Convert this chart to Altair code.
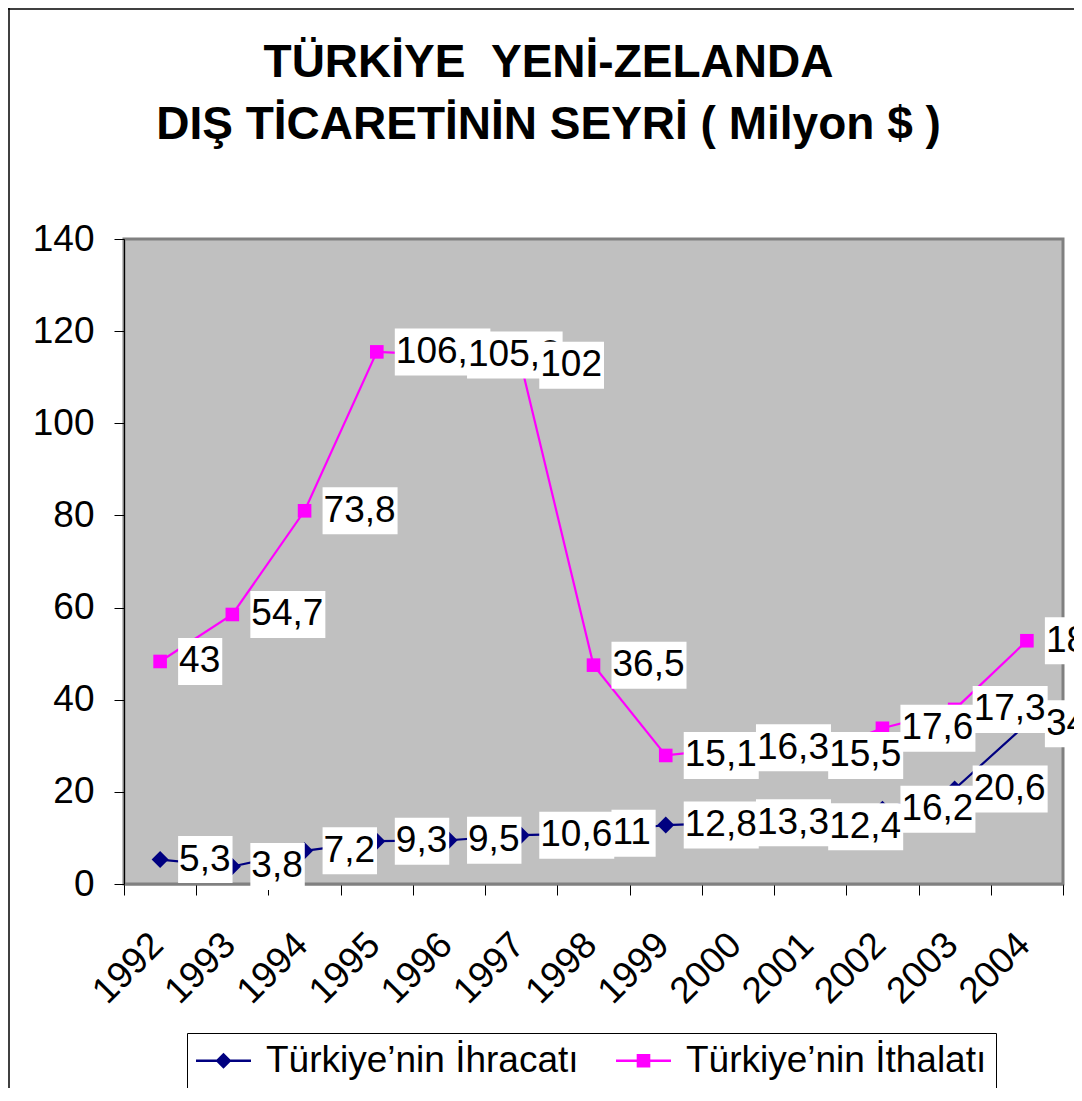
import altair as alt
import pandas as pd

# ---- data ----
years = ["1992", "1993", "1994", "1995", "1996", "1997", "1998",
         "1999", "2000", "2001", "2002", "2003", "2004"]
exports = [5.3, 3.8, 7.2, 9.3, 9.5, 10.6, 11, 12.8, 13.3, 12.4, 16.2, 20.6, 34.8]
imports = [43, 54.7, 73.8, 106.2, 105.3, 102, 36.5, 15.1, 16.3, 15.5, 17.6, 17.3, 18]
series_names = ["Türkiye’nin İhracatı", "Türkiye’nin İthalatı"]
series_colors = ["#000080", "#FF00FF"]
title_lines = ["TÜRKİYE \u00a0YENİ-ZELANDA", "DIŞ TİCARETİNİN SEYRİ ( Milyon $ )"]
y_ticks = [0, 20, 40, 60, 80, 100, 120, 140]

FONT = "Liberation Sans"
FS = 37          # label font size
BOX_R = 100.0    # px per path unit for label boxes (size = (2*BOX_R)^2)


def fmt(v):
    return f"{v:g}".replace(".", ",")


def text_w(s):
    return sum(0.278 if c == "," else 0.556 for c in s) * FS


def box_path(label):
    x0 = 18.0
    x1 = x0 + text_w(label) + 3.0
    h = 23.5
    return (f"M{x0/BOX_R:.4f},{-h/BOX_R:.4f}H{x1/BOX_R:.4f}"
            f"V{h/BOX_R:.4f}H{x0/BOX_R:.4f}Z")


rows = []
order = 0
for s_i, (name, vals) in enumerate([(series_names[0], exports), (series_names[1], imports)]):
    for i, yr in enumerate(years):
        plotted = exports[i] if s_i == 0 else exports[i] + imports[i]
        rows.append({"series": name, "year": yr, "value": vals[i], "y": plotted,
                     "label": fmt(vals[i]), "idx": order})
        order += 1
df = pd.DataFrame(rows)

# ---- shared encodings ----
x_enc = alt.X("year:N",
              scale=alt.Scale(type="band", domain=years, paddingInner=0, paddingOuter=0),
              axis=alt.Axis(title=None, tickBand="extent", labelAngle=-45, labelAlign="right",
                            labelBaseline="middle", labelPadding=44, labelOffset=-3, tickSize=11,
                            labelOverlap=False, labelBound=False, domainColor="#808080",
                            domainWidth=2))
y_enc = alt.Y("y:Q", scale=alt.Scale(domain=[0, 140], nice=False, zero=True),
              axis=alt.Axis(title=None, values=y_ticks, tickSize=10, labelPadding=20,
                            domainColor="black", domainWidth=1))

base = alt.Chart(df)

layers = []

# outer chart frame (left and top edges visible in reference)
frame = pd.DataFrame({"a": [0]})
layers.append(alt.Chart(frame).mark_rule(color="black", strokeWidth=1.5).encode(
    x=alt.value(-115), y=alt.value(-231), y2=alt.value(849)))
layers.append(alt.Chart(frame).mark_rule(color="black", strokeWidth=1.5).encode(
    x=alt.value(-116), x2=alt.value(960), y=alt.value(-230)))

shapes = ["diamond", "square"]
sizes = [290, 185]
for s_i, name in enumerate(series_names):
    sub = base.transform_filter(alt.datum.series == name)
    layers.append(sub.mark_line(color=series_colors[s_i], strokeWidth=2.2).encode(x=x_enc, y=y_enc))
    layers.append(sub.mark_point(filled=True, color=series_colors[s_i], shape=shapes[s_i],
                                 size=sizes[s_i], opacity=1).encode(x=x_enc, y=y_enc))

# data labels: white box + text, drawn label by label (later ones on top)
for k, lab in enumerate(df["label"]):
    sub = base.transform_filter(alt.datum.idx == k)
    layers.append(sub.mark_point(filled=True, color="white", opacity=1, size=(2 * BOX_R) ** 2,
                                 strokeWidth=0, shape=box_path(lab)).encode(x=x_enc, y=y_enc))
    layers.append(sub.mark_text(align="left", baseline="middle", dx=19, fontSize=FS, font=FONT,
                                color="black").encode(x=x_enc, y=y_enc, text="label:N"))

# legend-only layer (marks pushed outside the clipped view; legend symbols = line + marker)
U = 18.5
line_part = f"M{-27.5/U:.3f},{-1.2/U:.3f}H{27.5/U:.3f}V{1.2/U:.3f}H{-27.5/U:.3f}Z"
d = 8.0 / U
q = 6.8 / U
diamond_sym = line_part + f"M0,{-d:.3f}L{d:.3f},0L0,{d:.3f}L{-d:.3f},0Z"
square_sym = line_part + f"M{-q:.3f},{-q:.3f}H{q:.3f}V{q:.3f}H{-q:.3f}Z"

legend = alt.Legend(title=None, orient="none", legendX=63, legendY=794, direction="horizontal",
                    labelFont=FONT, labelFontSize=FS, labelColor="black", labelLimit=600,
                    symbolSize=U * U * 4, symbolOffset=9, labelOffset=24,
                    columnPadding=37, padding=9, strokeColor="black", fillColor="white",
                    symbolStrokeWidth=0)
leg_layer = base.transform_filter(alt.datum.year == "1992").transform_calculate(
    yhide="datum.y + 1000").mark_point(filled=True, opacity=1, size=U * U * 4, clip=True).encode(
    x=x_enc, y=alt.Y("yhide:Q"),
    color=alt.Color("series:N", scale=alt.Scale(domain=series_names, range=series_colors),
                    legend=legend),
    shape=alt.Shape("series:N", scale=alt.Scale(domain=series_names,
                                                range=[diamond_sym, square_sym]),
                    legend=legend))
layers.append(leg_layer)

chart = alt.layer(*layers).properties(
    width=939, height=645,
    title=alt.TitleParams(text=title_lines, fontSize=46, font=FONT, fontWeight="bold",
                          color="black", anchor="middle", dx=-45, offset=-142, lineHeight=62),
    autosize=alt.AutoSizeParams(type="none"),
    padding={"left": 116, "top": 231, "right": 11, "bottom": 204},
).configure_view(
    fill="#C0C0C0", stroke="#808080", strokeWidth=3
).configure_axis(
    labelFont=FONT, labelFontSize=FS, labelColor="black", tickColor="black", grid=False
)

chart.save("out.html", embed_options={"renderer": "svg", "actions": False})
